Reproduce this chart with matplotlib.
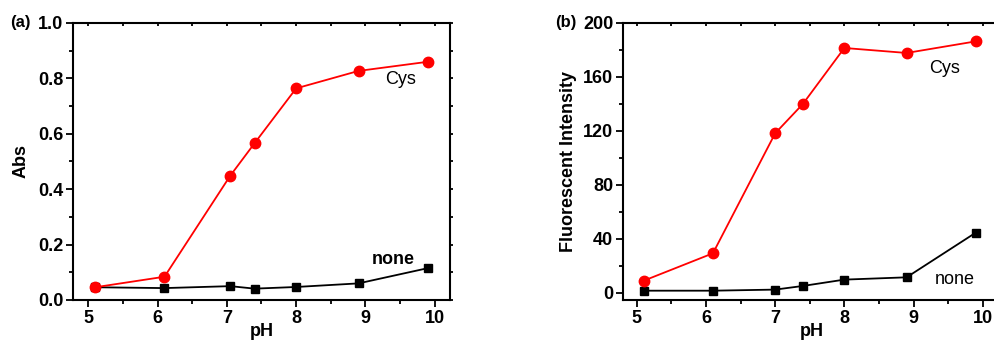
import matplotlib
matplotlib.use("Agg")
import matplotlib.pyplot as plt
from matplotlib.ticker import MultipleLocator, FormatStrFormatter

plt.rcParams['font.family'] = ['Liberation Sans', 'DejaVu Sans']
plt.rcParams['font.size'] = 13

# absorbance vs pH
ph_a = [5.1, 6.1, 7.05, 7.4, 8.0, 8.9, 9.9]
abs_cys = [0.046, 0.084, 0.449, 0.566, 0.764, 0.827, 0.860]
abs_none = [0.046, 0.043, 0.050, 0.041, 0.047, 0.060, 0.115]

# fluorescence vs pH
ph_b = [5.1, 6.1, 7.0, 7.4, 8.0, 8.9, 9.9]
fl_cys = [9.1, 29.4, 118.3, 140.0, 181.5, 177.8, 186.4]
fl_none = [1.7, 1.7, 2.5, 5.2, 9.9, 11.6, 44.7]

W, H = 994, 340
fig = plt.figure(figsize=(W / 100, H / 100), dpi=100)


def px_axes(left, top, right, bottom):
    return fig.add_axes([left / W, 1 - bottom / H, (right - left) / W, (bottom - top) / H])


def style(ax):
    for s in ax.spines.values():
        s.set_linewidth(1.5)
    ax.tick_params(which='both', direction='out', width=1.3, labelsize=13, pad=2)
    ax.tick_params(which='major', length=5)
    ax.tick_params(which='minor', length=3)
    ax.xaxis.set_major_locator(MultipleLocator(1))
    ax.xaxis.set_minor_locator(MultipleLocator(0.5))
    for lbl in ax.get_xticklabels() + ax.get_yticklabels():
        lbl.set_fontweight('bold')


def top_right_ticks(ax):
    # short inward ticks on the top and right frame
    ax.tick_params(which='both', top=True, right=True)
    for t in ax.xaxis.get_major_ticks() + ax.xaxis.get_minor_ticks():
        t.tick2line.set_marker(3)
        t.tick2line.set_markersize(2)
    for t in ax.yaxis.get_major_ticks() + ax.yaxis.get_minor_ticks():
        t.tick2line.set_marker(1)
        t.tick2line.set_markersize(2)


red = '#ff0000'

# panel (a)
ax1 = px_axes(73, 23, 450, 300)
ax1.plot(ph_a, abs_none, color='black', marker='s', markersize=6, lw=1.3, zorder=2)
ax1.plot(ph_a, abs_cys, color=red, marker='o', markersize=7.5, lw=1.3, zorder=3)
ax1.set_xlim(4.78, 10.22)
ax1.set_ylim(0, 1.0)
ax1.yaxis.set_major_locator(MultipleLocator(0.2))
ax1.yaxis.set_minor_locator(MultipleLocator(0.1))
ax1.yaxis.set_major_formatter(FormatStrFormatter('%.1f'))
style(ax1)
ax1.set_xlabel('pH', fontweight='bold', fontsize=13, labelpad=-3)
ax1.set_ylabel('Abs', fontweight='bold', fontsize=13, labelpad=6)
ax1.text(9.5, 0.795, 'Cys', ha='center', va='center', fontsize=13)
ax1.text(9.4, 0.148, 'none', ha='center', va='center', fontsize=13, fontweight='bold')
fig.text(20 / W, 1 - 23 / H, '(a)', ha='center', va='center', fontsize=12, fontweight='bold')

# panel (b)
ax2 = px_axes(623, 23, 1000, 300)
ax2.plot(ph_b, fl_none, color='black', marker='s', markersize=6, lw=1.3, zorder=2)
ax2.plot(ph_b, fl_cys, color=red, marker='o', markersize=7.5, lw=1.3, zorder=3)
ax2.set_xlim(4.8, 10.25)
ax2.set_ylim(-5.2, 200)
ax2.yaxis.set_major_locator(MultipleLocator(40))
ax2.yaxis.set_minor_locator(MultipleLocator(20))
style(ax2)
ax2.set_xlabel('pH', fontweight='bold', fontsize=13, labelpad=-3)
ax2.set_ylabel('Fluorescent Intensity', fontweight='bold', fontsize=13, labelpad=4)
ax2.text(9.45, 166, 'Cys', ha='center', va='center', fontsize=13)
ax2.text(9.6, 10, 'none', ha='center', va='center', fontsize=13)
fig.text(566 / W, 1 - 23 / H, '(b)', ha='center', va='center', fontsize=12, fontweight='bold')

for ax in (ax1, ax2):
    top_right_ticks(ax)

fig.savefig('out.png', dpi=100)
